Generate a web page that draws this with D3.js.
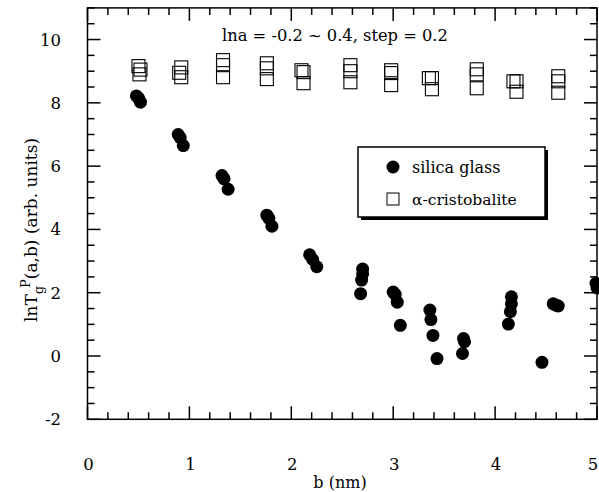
<!DOCTYPE html>
<html><head><meta charset="utf-8">
<script src="https://cdn.jsdelivr.net/npm/d3@7"></script>
<style>
body{margin:0;background:#fff;}
text{font-family:"DejaVu Serif";fill:#000;}
</style></head>
<body>
<svg id="chart" width="599" height="492"></svg>
<script>
const silicaX = [0.48,0.50,0.52, 0.89,0.91,0.94, 1.32,1.34,1.38, 1.76,1.78,1.81, 2.18,2.21,2.25, 2.70,2.70,2.69,2.68, 3.00,3.02,3.04,3.07, 3.36,3.37,3.39,3.43, 3.69,3.70,3.68, 4.16,4.16,4.15,4.13, 4.46, 4.57,4.60,4.62, 4.99,5.00];
const silicaY = [8.22,8.15,8.02, 7.00,6.90,6.65, 5.70,5.60,5.27, 4.45,4.35,4.10, 3.20,3.05,2.82, 2.75,2.60,2.40,1.97, 2.02,1.95,1.70,0.97, 1.45,1.15,0.65,-0.08, 0.55,0.45,0.08, 1.87,1.65,1.40,1.01, -0.20, 1.65,1.60,1.58, 2.30,2.15];
const cristX = [0.50,0.52,0.51, 0.92,0.90,0.92, 1.33,1.33,1.33, 1.76,1.76,1.76, 2.10,2.12,2.12, 2.58,2.58,2.58, 2.98,2.98,2.98, 3.35,3.38,3.38, 3.82,3.82,3.82, 4.18,4.21,4.21, 4.62,4.62,4.62];
const cristY = [9.16,9.05,8.90, 9.12,8.95,8.81, 9.35,9.19,8.81, 9.25,9.09,8.75, 9.03,8.97,8.62, 9.19,9.00,8.65, 9.03,8.94,8.56, 8.78,8.78,8.43, 9.06,8.90,8.46, 8.68,8.68,8.35, 8.84,8.68,8.32];
const xTicks = [0,1,2,3,4,5];
const yTicks = [-2,0,2,4,6,8,10];
const legendLabels = ["silica glass","\u03b1-cristobalite"];
const titleText = "lna = -0.2 ~ 0.4, step = 0.2";

const svg = d3.select("#chart");
const L = 87.5, R = 597, T = 7.9, B = 419.3;
const x = d3.scaleLinear().domain([0,5]).range([L,R]);
const y = d3.scaleLinear().domain([-2,11]).range([B,T]);

svg.append("rect").attr("x",L).attr("y",T).attr("width",R-L).attr("height",B-T)
  .attr("fill","none").attr("stroke","#000").attr("stroke-width",1.5);

const xMinor = d3.range(0,5.0001,0.2).map(v=>+v.toFixed(2));
const yMinor = d3.range(-2,11.0001,0.5).map(v=>+v.toFixed(2));
const isMajX = v => Math.abs(v-Math.round(v))<1e-6;
const isMajY = v => Math.abs(v/2-Math.round(v/2))<1e-6;
const g = svg.append("g").attr("stroke","#000").attr("stroke-width",1.5);
xMinor.forEach(v=>{
  const len = isMajX(v)?13:7;
  g.append("line").attr("x1",x(v)).attr("x2",x(v)).attr("y1",B).attr("y2",B-len);
  g.append("line").attr("x1",x(v)).attr("x2",x(v)).attr("y1",T).attr("y2",T+len);
});
yMinor.forEach(v=>{
  const len = isMajY(v)?13:7;
  g.append("line").attr("y1",y(v)).attr("y2",y(v)).attr("x1",L).attr("x2",L+len);
  g.append("line").attr("y1",y(v)).attr("y2",y(v)).attr("x1",R).attr("x2",R-len);
});

svg.selectAll(".xl").data(xTicks).enter().append("text")
  .attr("x",d=>Math.min(x(d)+1,593)).attr("y",470).attr("text-anchor","middle").attr("font-size",16.5).text(d=>d);
svg.selectAll(".yl").data(yTicks).enter().append("text")
  .attr("x",61).attr("y",d=>y(d)+6).attr("text-anchor","end").attr("font-size",16.5).text(d=>d);

svg.append("text").attr("x",340).attr("y",488).attr("text-anchor","middle").attr("font-size",16).text("b (nm)");
const yt = svg.append("text").attr("transform","translate(37,230) rotate(-90)").attr("text-anchor","middle").attr("font-size",17);
yt.append("tspan").text("lnT");
yt.append("tspan").attr("font-size",13).attr("dy",6).text("g");
yt.append("tspan").attr("font-size",13).attr("dx",-2).attr("dy",-13).text("P");
yt.append("tspan").attr("dy",7).text("(a,b) (arb. units)");

svg.append("text").attr("x",222).attr("y",41).attr("font-size",16.3).text(titleText);

svg.selectAll(".cr").data(cristX).enter().append("rect")
  .attr("x",(d,i)=>x(d)-6.5).attr("y",(d,i)=>y(cristY[i])-6.5)
  .attr("width",13).attr("height",13).attr("fill","none").attr("stroke","#000").attr("stroke-width",1.1);
svg.selectAll(".si").data(silicaX).enter().append("circle")
  .attr("cx",d=>x(d)).attr("cy",(d,i)=>y(silicaY[i])).attr("r",6.5).attr("fill","#000");

svg.append("rect").attr("x",361).attr("y",150).attr("width",187).attr("height",70).attr("fill","#000");
svg.append("rect").attr("x",358).attr("y",147).attr("width",187).attr("height",70).attr("fill","#fff").attr("stroke","#000").attr("stroke-width",1.5);
svg.append("circle").attr("cx",393).attr("cy",167).attr("r",6.5).attr("fill","#000");
svg.append("rect").attr("x",387).attr("y",193).attr("width",12).attr("height",12).attr("fill","none").attr("stroke","#000").attr("stroke-width",1);
svg.append("text").attr("x",412).attr("y",173).attr("font-size",16).text(legendLabels[0]);
svg.append("text").attr("x",412).attr("y",205).attr("font-size",15.5).text(legendLabels[1]);
</script>
</body></html>
